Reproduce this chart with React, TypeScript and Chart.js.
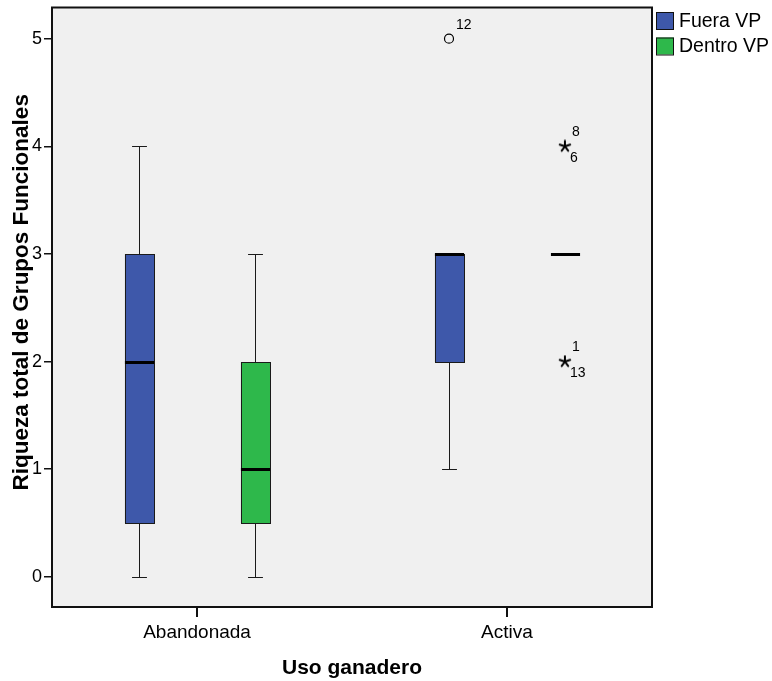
import React, { useEffect, useRef } from 'react';
import { Chart, registerables } from 'chart.js';

Chart.register(...registerables);

// ---- Data ----
const categories = ['Abandonada', 'Activa'];
const seriesNames = ['Fuera VP', 'Dentro VP'];
const seriesColors = ['#3E58AA', '#2EB84B'];

const fueraMin = [0, 1];
const fueraQ1 = [0.5, 2];
const fueraMedian = [2, 3];
const fueraQ3 = [3, 3];
const fueraMax = [4, 3];

const dentroMin = [0, 3];
const dentroQ1 = [0.5, 3];
const dentroMedian = [1, 3];
const dentroQ3 = [2, 3];
const dentroMax = [3, 3];

const yTicks = [0, 1, 2, 3, 4, 5];

const outlierSeries = [0, 1, 1];
const outlierCategory = [1, 1, 1];
const outlierValue = [5, 4, 2];
const outlierKind = ['circle', 'star', 'star'];
const outlierIds = [['12'], ['8', '6'], ['1', '13']];

const yTitle = 'Riqueza total de Grupos Funcionales';
const xTitle = 'Uso ganadero';

// ---- Layout / style ----
const groupOffset = [-0.187, 0.187];
const boxHalf = 0.047;
const capHalf = 0.024;
const FONT = "'Liberation Sans', Arial, Helvetica, sans-serif";

const stats = [
  { min: fueraMin, q1: fueraQ1, med: fueraMedian, q3: fueraQ3, max: fueraMax },
  { min: dentroMin, q1: dentroQ1, med: dentroMedian, q3: dentroQ3, max: dentroMax },
];

function makeStar(): HTMLCanvasElement {
  const c = document.createElement('canvas');
  c.width = 14;
  c.height = 14;
  const g = c.getContext('2d')!;
  g.strokeStyle = '#000';
  g.lineWidth = 2;
  g.lineCap = 'round';
  for (let k = 0; k < 5; k++) {
    const a = -Math.PI / 2 + (k * 2 * Math.PI) / 5;
    g.beginPath();
    g.moveTo(7, 7);
    g.lineTo(7 + Math.cos(a) * 5.5, 7 + Math.sin(a) * 5.5);
    g.stroke();
  }
  return c;
}

const half = (v: number) => Math.round(v) + 0.5;

const boxPlugin = {
  id: 'boxPlugin',
  beforeDraw(chart: any) {
    const { ctx, chartArea } = chart;
    ctx.save();
    ctx.fillStyle = '#F0F0F0';
    ctx.fillRect(chartArea.left, chartArea.top, chartArea.right - chartArea.left, chartArea.bottom - chartArea.top);
    ctx.restore();
  },
  beforeDatasetsDraw(chart: any) {
    const { ctx } = chart;
    const xs = chart.scales.x;
    const ys = chart.scales.y;
    const pxW = (w: number) => xs.getPixelForValue(w) - xs.getPixelForValue(0);
    const hw = pxW(boxHalf);
    const cw = pxW(capHalf);
    ctx.save();
    stats.forEach((st, s) => {
      categories.forEach((_, c) => {
        const x = half(xs.getPixelForValue(c + groupOffset[s]));
        const yMin = Math.round(ys.getPixelForValue(st.min[c]));
        const yQ1 = Math.round(ys.getPixelForValue(st.q1[c]));
        const yMed = Math.round(ys.getPixelForValue(st.med[c]));
        const yQ3 = Math.round(ys.getPixelForValue(st.q3[c]));
        const yMax = Math.round(ys.getPixelForValue(st.max[c]));
        ctx.strokeStyle = '#1a1a1a';
        ctx.lineWidth = 1;
        if (st.max[c] > st.q3[c]) {
          ctx.beginPath();
          ctx.moveTo(x, yQ3);
          ctx.lineTo(x, yMax + 0.5);
          ctx.moveTo(x - cw, yMax + 0.5);
          ctx.lineTo(x + cw, yMax + 0.5);
          ctx.stroke();
        }
        if (st.min[c] < st.q1[c]) {
          ctx.beginPath();
          ctx.moveTo(x, yQ1);
          ctx.lineTo(x, yMin + 0.5);
          ctx.moveTo(x - cw, yMin + 0.5);
          ctx.lineTo(x + cw, yMin + 0.5);
          ctx.stroke();
        }
        if (st.q3[c] > st.q1[c]) {
          ctx.fillStyle = seriesColors[s];
          ctx.fillRect(x - hw, yQ3, 2 * hw, yQ1 - yQ3);
          ctx.strokeRect(Math.round(x - hw) + 0.5, yQ3 + 0.5, Math.round(2 * hw), yQ1 - yQ3);
        }
        ctx.strokeStyle = '#000';
        ctx.lineWidth = 3;
        ctx.beginPath();
        ctx.moveTo(x - hw, yMed + 0.5);
        ctx.lineTo(x + hw, yMed + 0.5);
        ctx.stroke();
      });
    });
    ctx.restore();
  },
  afterDatasetsDraw(chart: any) {
    const { ctx } = chart;
    const xs = chart.scales.x;
    const ys = chart.scales.y;
    ctx.save();
    ctx.fillStyle = '#000';
    ctx.font = `14px ${FONT}`;
    ctx.textAlign = 'left';
    ctx.textBaseline = 'middle';
    outlierValue.forEach((v, i) => {
      const x = xs.getPixelForValue(outlierCategory[i] + groupOffset[outlierSeries[i]]);
      const y = ys.getPixelForValue(v);
      const ids = outlierIds[i];
      if (ids[0]) ctx.fillText(ids[0], x + 7, y - 14);
      if (ids[1]) ctx.fillText(ids[1], x + 5, y + 12);
    });
    ctx.restore();
  },
  afterDraw(chart: any) {
    const { ctx, chartArea } = chart;
    ctx.save();
    ctx.strokeStyle = '#111';
    ctx.lineWidth = 2;
    ctx.strokeRect(chartArea.left, chartArea.top, chartArea.right - chartArea.left, chartArea.bottom - chartArea.top);
    // y axis title
    ctx.save();
    ctx.translate(21.5, (chartArea.top + chartArea.bottom) / 2 - 15);
    ctx.rotate(-Math.PI / 2);
    ctx.fillStyle = '#000';
    ctx.font = `bold 22.5px ${FONT}`;
    ctx.textAlign = 'center';
    ctx.textBaseline = 'middle';
    ctx.fillText(yTitle, 0, 0);
    ctx.restore();
    // legend
    const lx = chartArea.right + 4;
    ctx.font = `19.5px ${FONT}`;
    ctx.textAlign = 'left';
    ctx.textBaseline = 'middle';
    seriesNames.forEach((name, i) => {
      const top = 12 + i * 25.5;
      ctx.fillStyle = seriesColors[i];
      ctx.fillRect(lx, top, 18, 17);
      ctx.strokeStyle = '#111';
      ctx.lineWidth = 1;
      ctx.strokeRect(lx + 0.5, top + 0.5, 17, 17);
      ctx.fillStyle = '#000';
      ctx.fillText(name, lx + 23, top + 9.5);
    });
    ctx.restore();
  },
};

export default function App() {
  const ref = useRef<HTMLCanvasElement>(null);
  useEffect(() => {
    if (!ref.current) return;
    const star = makeStar();
    const datasets = seriesNames.map((name, s) => {
      const idx = outlierValue.map((_, i) => i).filter((i) => outlierSeries[i] === s);
      return {
        label: name,
        data: idx.map((i) => ({ x: outlierCategory[i] + groupOffset[s], y: outlierValue[i] })),
        pointStyle: idx.map((i) => (outlierKind[i] === 'star' ? star : 'circle')) as any,
        pointRadius: 4.5,
        pointHoverRadius: 4.5,
        pointBorderWidth: 1.2,
        pointBorderColor: '#000',
        pointBackgroundColor: 'rgba(0,0,0,0)',
        backgroundColor: seriesColors[s],
        showLine: false,
      };
    });
    const chart = new Chart(ref.current, {
      type: 'scatter',
      data: { datasets },
      options: {
        animation: false,
        responsive: false,
        events: [],
        layout: { padding: { top: 7.5, right: 120, left: 0, bottom: 0 } },
        plugins: { legend: { display: false }, tooltip: { enabled: false } },
        scales: {
          x: {
            type: 'linear',
            min: -0.468,
            max: 1.468,
            afterBuildTicks: (scale: any) => {
              scale.ticks = categories.map((_, i) => ({ value: i }));
            },
            afterFit: (scale: any) => {
              scale.height = 74;
              scale.paddingLeft = 0;
              scale.paddingRight = 0;
            },
            ticks: {
              autoSkip: false,
              maxRotation: 0,
              color: '#000',
              padding: 4,
              font: { family: FONT, size: 19 },
              callback: (v: any) => categories[v as number] ?? '',
            },
            grid: { drawOnChartArea: false, drawTicks: true, tickLength: 10, color: '#111', lineWidth: 2 },
            border: { display: false },
            title: {
              display: true,
              text: xTitle,
              color: '#000',
              font: { family: FONT, size: 21, weight: 'bold' },
              padding: { top: 0, bottom: 0 },
            },
          },
          y: {
            type: 'linear',
            min: -0.28,
            max: 5.29,
            afterBuildTicks: (scale: any) => {
              scale.ticks = yTicks.map((v) => ({ value: v }));
            },
            afterFit: (scale: any) => {
              scale.width = 52;
              scale.paddingTop = 0;
              scale.paddingBottom = 0;
            },
            ticks: {
              color: '#000',
              padding: 2,
              font: { family: FONT, size: 18 },
            },
            grid: { drawOnChartArea: false, drawTicks: true, tickLength: 8, color: '#111', lineWidth: 1.5 },
            border: { display: false },
            title: { display: false },
          },
        },
      },
      plugins: [boxPlugin],
    } as any);
    return () => chart.destroy();
  }, []);
  return (
    <div style={{ position: 'fixed', left: 0, top: 0, width: 772, height: 681, background: '#fff' }}>
      <canvas ref={ref} width={772} height={681} style={{ display: 'block' }} />
    </div>
  );
}
